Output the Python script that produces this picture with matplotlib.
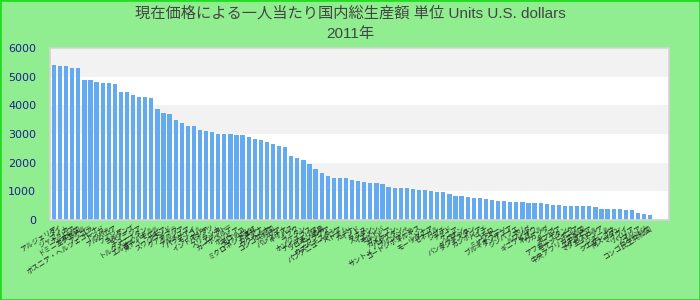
import matplotlib
matplotlib.use('Agg')
import matplotlib.pyplot as plt

title_main = '現在価格による一人当たり国内総生産額 単位 Units U.S. dollars'
title_year = '2011年'

countries = [
    'アルジェリア', 'タイ', 'ジャマイカ', 'ナミビア', 'ドミニカ共和国', 'エクアドル',
    'アンゴラ', 'ボスニア・ヘルツェゴビナ', 'トンガ', 'ツバル', 'アルバニア', 'フィジー',
    'ヨルダン', 'ベリーズ', 'チュニジア', 'トルクメニスタン', 'エルサルバドル', '東ティモール',
    'サモア', 'スワジランド', 'グアテマラ', 'グルジア', 'アルメニア', 'パラグアイ',
    'モンゴル', 'インドネシア', 'バヌアツ', 'スリランカ', 'エジプト', 'カーボベルデ',
    'ボリビア', 'モロッコ', 'フィリピン', 'ミクロネシア連邦', 'ガイアナ', 'ウクライナ',
    'コンゴ共和国', 'シリア', 'パレスチナ', 'キリバス', 'イラク', 'ブータン',
    'ホンジュラス', 'ナイジェリア', 'ソロモン諸島', 'ニカラグア', 'ウズベキスタン', 'パプアニューギニア',
    'ベトナム', 'ガーナ', 'インド', 'ラオス', 'スーダン', 'イエメン',
    'モルドバ', 'ザンビア', 'カメルーン', 'パキスタン', 'サントメ・プリンシペ', 'コートジボワール',
    'キルギス', 'レソト', 'モーリタニア', 'セネガル', 'ジブチ', 'チャド',
    'ケニア', 'ベナン', 'バングラデシュ', 'タジキスタン', 'カンボジア', 'ハイチ',
    'コモロ', 'ミャンマー', 'ブルキナファソ', 'タンザニア', 'ジンバブエ', 'マリ',
    'ルワンダ', 'ギニアビサウ', 'ネパール', 'ウガンダ', 'トーゴ', 'ガンビア',
    'アフガニスタン', 'モザンビーク', 'ギニア', '中央アフリカ共和国', 'エチオピア', 'マダガスカル',
    'エリトリア', 'ニジェール', 'シエラレオネ', '南スーダン', 'マラウイ', 'リベリア',
    'ソマリア', 'ブルンジ', 'コンゴ民主共和国',
]

gdp = [
    5400, 5380, 5380, 5300, 5300, 4880, 4880, 4800, 4780, 4780, 4750, 4470,
    4470, 4360, 4300, 4300, 4260, 3870,
    3730, 3700, 3490, 3380, 3280, 3280, 3140, 3100, 3070, 3000, 3000, 3000,
    2960, 2960, 2900, 2820, 2790,
    2720, 2650, 2580, 2550, 2230, 2160, 2090, 1950, 1780, 1640, 1530, 1470,
    1470, 1470, 1400, 1360, 1330, 1290,
    1290, 1260, 1150, 1120, 1120, 1120, 1080, 1050, 1050, 1010, 980, 980,
    910, 840, 840, 800, 770,
    770, 730, 700, 660, 660, 630, 630, 630, 600, 600, 600, 560, 520, 520,
    490, 490, 490, 490, 490, 450, 380, 380, 380, 380, 350, 350, 240, 210, 170,
]

yticks = [0, 1000, 2000, 3000, 4000, 5000, 6000]

fig = plt.figure(figsize=(7, 3), dpi=100, facecolor='#90ee90')
fig.patches.append(plt.Rectangle((0, 0), 1, 1, transform=fig.transFigure,
                                 fill=False, edgecolor='#22dd22', linewidth=2))

ax = fig.add_axes([50 / 700, 1 - 220 / 300, 619 / 700, 172 / 300])
ax.set_facecolor('white')

# alternating horizontal bands
for i in range(len(yticks) - 1):
    if i % 2 == 1:
        ax.axhspan(yticks[i], yticks[i + 1], color='#f2f2f2', zorder=0, lw=0)

x = list(range(len(gdp)))
ax.bar(x, gdp, width=0.7, color='#64aaf0', zorder=2)

ax.set_ylim(0, 6000)
ax.set_xlim(-0.66, 101.1)
ax.set_yticks(yticks)
ax.set_yticklabels([str(v) for v in yticks], color='#1f1f8f', fontsize=8)
ax.tick_params(axis='y', length=0, pad=10)
ax.tick_params(axis='x', length=0, pad=3)

ax.set_xticks(x)
ax.set_xticklabels(countries, rotation=32, ha='right', rotation_mode='anchor',
                   fontsize=5, color='#222222',
                   family=['Noto Sans CJK JP', 'DejaVu Sans'])

for side in ['left', 'bottom', 'right', 'top']:
    ax.spines[side].set_color('#d4d4d4')
    ax.spines[side].set_linewidth(1.2)

fig.text(0.5, 1 - 13 / 300, title_main, ha='center', va='center', fontsize=11,
         color='#444444', family=['Liberation Sans', 'Noto Sans CJK JP'])
fig.text(0.5, 1 - 34 / 300, title_year, ha='center', va='center', fontsize=11,
         color='#444444', family=['Liberation Sans', 'Noto Sans CJK JP'])

fig.savefig('out.png', dpi=100, facecolor=fig.get_facecolor())
